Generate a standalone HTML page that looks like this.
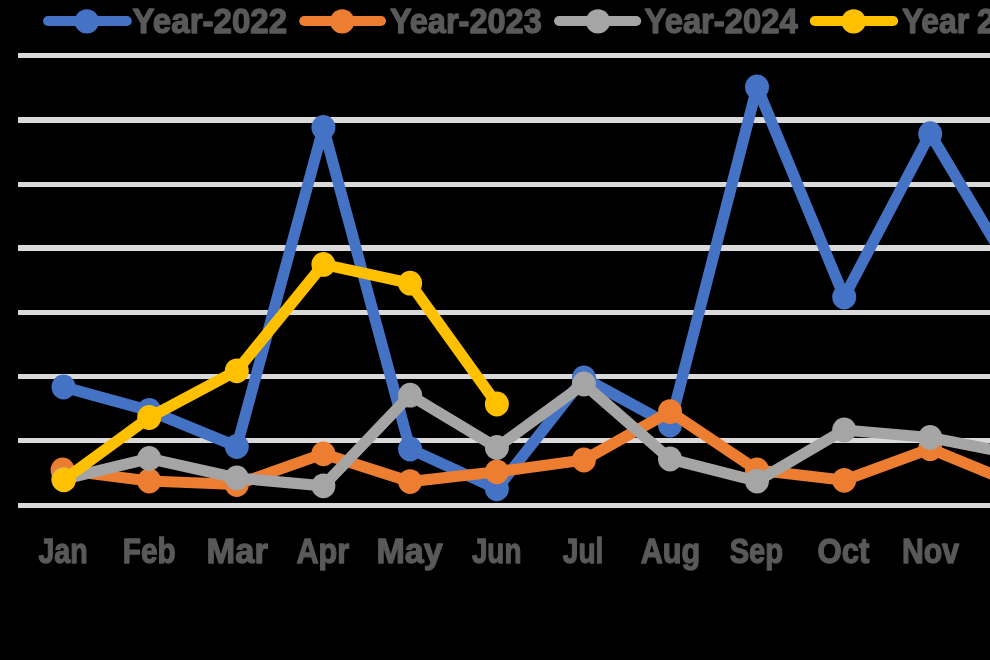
<!DOCTYPE html><html><head><meta charset="utf-8"><style>html,body{margin:0;padding:0;background:#000;width:990px;height:660px;overflow:hidden}svg{display:block;will-change:transform}text{font-family:"Liberation Sans",sans-serif;font-weight:bold}</style></head><body>
<svg width="990" height="660" viewBox="0 0 990 660">
<rect width="990" height="660" fill="#000"/>
<rect x="18" y="53" width="972" height="5" fill="#D9D9D9"/>
<rect x="18" y="117" width="972" height="6" fill="#D9D9D9"/>
<rect x="18" y="182" width="972" height="5" fill="#D9D9D9"/>
<rect x="18" y="245" width="972" height="6" fill="#D9D9D9"/>
<rect x="18" y="310" width="972" height="5" fill="#D9D9D9"/>
<rect x="18" y="374" width="972" height="5" fill="#D9D9D9"/>
<rect x="18" y="438" width="972" height="5" fill="#D9D9D9"/>
<rect x="18" y="503" width="972" height="5" fill="#D9D9D9"/>
<polyline points="63.5,387 149.2,410.5 236.8,446.5 323.4,127.5 410.1,449 496.9,488.8 583.9,378 670.0,425 757.0,87 844.2,297 930.2,133.7 1016.9,279" fill="none" stroke="#4472C4" stroke-width="11.2" stroke-linejoin="round" stroke-linecap="round"/>
<ellipse cx="63.5" cy="387" rx="12" ry="12.4" fill="#4472C4"/>
<ellipse cx="149.2" cy="410.5" rx="12" ry="12.4" fill="#4472C4"/>
<ellipse cx="236.8" cy="446.5" rx="12" ry="12.4" fill="#4472C4"/>
<ellipse cx="323.4" cy="127.5" rx="12" ry="12.4" fill="#4472C4"/>
<ellipse cx="410.1" cy="449" rx="12" ry="12.4" fill="#4472C4"/>
<ellipse cx="496.9" cy="488.8" rx="12" ry="12.4" fill="#4472C4"/>
<ellipse cx="583.9" cy="378" rx="12" ry="12.4" fill="#4472C4"/>
<ellipse cx="670.0" cy="425" rx="12" ry="12.4" fill="#4472C4"/>
<ellipse cx="757.0" cy="87" rx="12" ry="12.4" fill="#4472C4"/>
<ellipse cx="844.2" cy="297" rx="12" ry="12.4" fill="#4472C4"/>
<ellipse cx="930.2" cy="133.7" rx="12" ry="12.4" fill="#4472C4"/>
<ellipse cx="1016.9" cy="279" rx="12" ry="12.4" fill="#4472C4"/>
<polyline points="62.6,470 149.2,481 236.8,484.5 323.4,453.8 410.1,481.6 496.9,471.8 583.9,460 670.0,411.6 757.0,470 844.2,480.3 930.2,448.7 1016.9,484.5" fill="none" stroke="#ED7D31" stroke-width="11.2" stroke-linejoin="round" stroke-linecap="round"/>
<ellipse cx="62.6" cy="470" rx="12" ry="12.4" fill="#ED7D31"/>
<ellipse cx="149.2" cy="481" rx="12" ry="12.4" fill="#ED7D31"/>
<ellipse cx="236.8" cy="484.5" rx="12" ry="12.4" fill="#ED7D31"/>
<ellipse cx="323.4" cy="453.8" rx="12" ry="12.4" fill="#ED7D31"/>
<ellipse cx="410.1" cy="481.6" rx="12" ry="12.4" fill="#ED7D31"/>
<ellipse cx="496.9" cy="471.8" rx="12" ry="12.4" fill="#ED7D31"/>
<ellipse cx="583.9" cy="460" rx="12" ry="12.4" fill="#ED7D31"/>
<ellipse cx="670.0" cy="411.6" rx="12" ry="12.4" fill="#ED7D31"/>
<ellipse cx="757.0" cy="470" rx="12" ry="12.4" fill="#ED7D31"/>
<ellipse cx="844.2" cy="480.3" rx="12" ry="12.4" fill="#ED7D31"/>
<ellipse cx="930.2" cy="448.7" rx="12" ry="12.4" fill="#ED7D31"/>
<ellipse cx="1016.9" cy="484.5" rx="12" ry="12.4" fill="#ED7D31"/>
<polyline points="63.3,479.3 149.2,458.5 236.8,478 323.4,485.8 410.1,395.2 496.9,447.5 583.9,384 670.0,459 757.0,481.1 844.2,430 930.2,437.5 1016.9,454.6" fill="none" stroke="#A5A5A5" stroke-width="11.2" stroke-linejoin="round" stroke-linecap="round"/>
<ellipse cx="63.3" cy="479.3" rx="12" ry="12.4" fill="#A5A5A5"/>
<ellipse cx="149.2" cy="458.5" rx="12" ry="12.4" fill="#A5A5A5"/>
<ellipse cx="236.8" cy="478" rx="12" ry="12.4" fill="#A5A5A5"/>
<ellipse cx="323.4" cy="485.8" rx="12" ry="12.4" fill="#A5A5A5"/>
<ellipse cx="410.1" cy="395.2" rx="12" ry="12.4" fill="#A5A5A5"/>
<ellipse cx="496.9" cy="447.5" rx="12" ry="12.4" fill="#A5A5A5"/>
<ellipse cx="583.9" cy="384" rx="12" ry="12.4" fill="#A5A5A5"/>
<ellipse cx="670.0" cy="459" rx="12" ry="12.4" fill="#A5A5A5"/>
<ellipse cx="757.0" cy="481.1" rx="12" ry="12.4" fill="#A5A5A5"/>
<ellipse cx="844.2" cy="430" rx="12" ry="12.4" fill="#A5A5A5"/>
<ellipse cx="930.2" cy="437.5" rx="12" ry="12.4" fill="#A5A5A5"/>
<ellipse cx="1016.9" cy="454.6" rx="12" ry="12.4" fill="#A5A5A5"/>
<polyline points="63.9,479.8 149.2,417.5 236.8,370.8 323.4,264.4 410.1,283.2 496.9,404" fill="none" stroke="#FFC000" stroke-width="11.2" stroke-linejoin="round" stroke-linecap="round"/>
<ellipse cx="63.9" cy="479.8" rx="12" ry="12.4" fill="#FFC000"/>
<ellipse cx="149.2" cy="417.5" rx="12" ry="12.4" fill="#FFC000"/>
<ellipse cx="236.8" cy="370.8" rx="12" ry="12.4" fill="#FFC000"/>
<ellipse cx="323.4" cy="264.4" rx="12" ry="12.4" fill="#FFC000"/>
<ellipse cx="410.1" cy="283.2" rx="12" ry="12.4" fill="#FFC000"/>
<ellipse cx="496.9" cy="404" rx="12" ry="12.4" fill="#FFC000"/>
<line x1="48" y1="21" x2="126.80000000000001" y2="21" stroke="#4472C4" stroke-width="10" stroke-linecap="round"/>
<circle cx="86.8" cy="21.4" r="12.2" fill="#4472C4"/>
<text x="132.60" y="32.5" textLength="154.60" font-size="34.3" fill="#595959" stroke="#595959" stroke-width="1.3" stroke-linejoin="round" lengthAdjust="spacingAndGlyphs">Year-2022</text>
<line x1="304.2" y1="21" x2="381" y2="21" stroke="#ED7D31" stroke-width="10" stroke-linecap="round"/>
<circle cx="342.2" cy="21.4" r="12.2" fill="#ED7D31"/>
<text x="389.90" y="32.5" textLength="151.90" font-size="34.3" fill="#595959" stroke="#595959" stroke-width="1.3" stroke-linejoin="round" lengthAdjust="spacingAndGlyphs">Year-2023</text>
<line x1="559.1" y1="21" x2="636.2" y2="21" stroke="#A5A5A5" stroke-width="10" stroke-linecap="round"/>
<circle cx="598" cy="21.4" r="12.2" fill="#A5A5A5"/>
<text x="644.60" y="32.5" textLength="153.10" font-size="34.3" fill="#595959" stroke="#595959" stroke-width="1.3" stroke-linejoin="round" lengthAdjust="spacingAndGlyphs">Year-2024</text>
<line x1="814.8" y1="21" x2="893.1" y2="21" stroke="#FFC000" stroke-width="10" stroke-linecap="round"/>
<circle cx="853.6" cy="21.4" r="12.2" fill="#FFC000"/>
<text x="901.90" y="32.5" textLength="67.30" font-size="34.3" fill="#595959" stroke="#595959" stroke-width="1.3" stroke-linejoin="round" lengthAdjust="spacingAndGlyphs">Year</text>
<text x="977.10" y="32.5" textLength="71.80" font-size="34.3" fill="#595959" stroke="#595959" stroke-width="1.3" stroke-linejoin="round" lengthAdjust="spacingAndGlyphs">2025</text>
<text x="38.40" y="563.2" textLength="49.20" font-size="34.3" fill="#595959" stroke="#595959" stroke-width="1.3" stroke-linejoin="round" lengthAdjust="spacingAndGlyphs">Jan</text>
<text x="122.80" y="563.2" textLength="52.90" font-size="34.3" fill="#595959" stroke="#595959" stroke-width="1.3" stroke-linejoin="round" lengthAdjust="spacingAndGlyphs">Feb</text>
<text x="206.60" y="563.2" textLength="61.20" font-size="34.3" fill="#595959" stroke="#595959" stroke-width="1.3" stroke-linejoin="round" lengthAdjust="spacingAndGlyphs">Mar</text>
<text x="296.40" y="563.2" textLength="52.80" font-size="34.3" fill="#595959" stroke="#595959" stroke-width="1.3" stroke-linejoin="round" lengthAdjust="spacingAndGlyphs">Apr</text>
<text x="376.50" y="563.2" textLength="66.10" font-size="34.3" fill="#595959" stroke="#595959" stroke-width="1.3" stroke-linejoin="round" lengthAdjust="spacingAndGlyphs">May</text>
<text x="471.90" y="563.2" textLength="49.50" font-size="34.3" fill="#595959" stroke="#595959" stroke-width="1.3" stroke-linejoin="round" lengthAdjust="spacingAndGlyphs">Jun</text>
<text x="562.80" y="563.2" textLength="40.50" font-size="34.3" fill="#595959" stroke="#595959" stroke-width="1.3" stroke-linejoin="round" lengthAdjust="spacingAndGlyphs">Jul</text>
<text x="640.70" y="563.2" textLength="59.50" font-size="34.3" fill="#595959" stroke="#595959" stroke-width="1.3" stroke-linejoin="round" lengthAdjust="spacingAndGlyphs">Aug</text>
<text x="729.70" y="563.2" textLength="53.40" font-size="34.3" fill="#595959" stroke="#595959" stroke-width="1.3" stroke-linejoin="round" lengthAdjust="spacingAndGlyphs">Sep</text>
<text x="817.60" y="563.2" textLength="51.90" font-size="34.3" fill="#595959" stroke="#595959" stroke-width="1.3" stroke-linejoin="round" lengthAdjust="spacingAndGlyphs">Oct</text>
<text x="902.00" y="563.2" textLength="57.10" font-size="34.3" fill="#595959" stroke="#595959" stroke-width="1.3" stroke-linejoin="round" lengthAdjust="spacingAndGlyphs">Nov</text>
</svg></body></html>
